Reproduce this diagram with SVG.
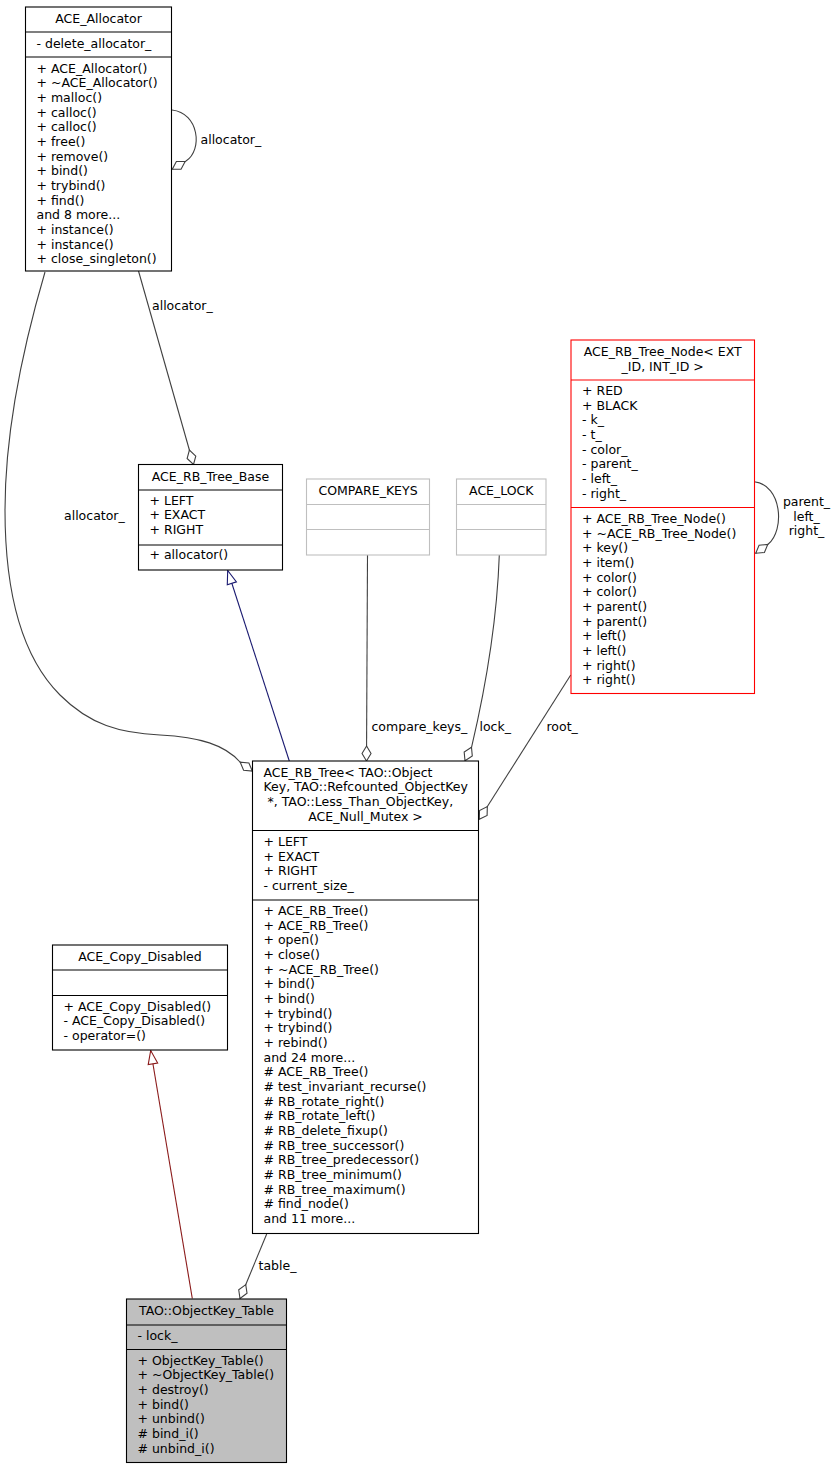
<svg xmlns="http://www.w3.org/2000/svg" width="838" height="1469" viewBox="0 0 838 1469">
<style>
text{font-family:"DejaVu Sans","Liberation Sans",sans-serif;font-size:12.5px;fill:#000}
.c{text-anchor:middle}
.box{fill:#fff;stroke:#000;stroke-width:1.1}
.gray{fill:#fff;stroke:#bfbfbf;stroke-width:1.1}
.red{fill:#fff;stroke:#ff0000;stroke-width:1.1}
.cur{fill:#bfbfbf;stroke:#000;stroke-width:1.1}
.sep{stroke:#000;stroke-width:1.1}
.sepg{stroke:#bfbfbf;stroke-width:1.1}
.sepr{stroke:#ff0000;stroke-width:1.1}
.e{fill:none;stroke:#404040;stroke-width:1.1;marker-end:url(#dia)}
.ib{fill:none;stroke:#191970;stroke-width:1.1;marker-end:url(#triB)}
.ir{fill:none;stroke:#8b1a1a;stroke-width:1.1;marker-end:url(#triR)}
</style>
<defs>
<marker id="dia" markerUnits="userSpaceOnUse" orient="auto" refX="0" refY="0" overflow="visible">
<path d="M0,0 L-7.5,-4.5 L-15,0 L-7.5,4.5 Z" fill="#fff" stroke="#404040" stroke-width="1.1"/>
</marker>
<marker id="triB" markerUnits="userSpaceOnUse" orient="auto" refX="0" refY="0" overflow="visible">
<path d="M0,0 L-13.5,-4.8 L-13.5,4.8 Z" fill="#fff" stroke="#191970" stroke-width="1.1"/>
</marker>
<marker id="triR" markerUnits="userSpaceOnUse" orient="auto" refX="0" refY="0" overflow="visible">
<path d="M0,0 L-13.5,-4.8 L-13.5,4.8 Z" fill="#fff" stroke="#8b1a1a" stroke-width="1.1"/>
</marker>
</defs>
<rect width="838" height="1469" fill="#fff"/>

<g id="edges">
<path class="e" d="M172,110 C199,113 203,150 186,161 L172.3,169.3"/>
<text x="200.5" y="143.5">allocator_</text>
<path class="e" d="M138.5,271 L193.5,464.5"/>
<text x="152" y="309.5">allocator_</text>
<path class="e" d="M45,272 C28,330 5,420 5,510 C5,600 25,660 60,695 C90,725 120,733 160,735 C200,737 225,745 240,762 L252.3,771"/>
<text x="64" y="520">allocator_</text>
<path class="ib" d="M289.3,761 L227.7,570.5"/>
<path class="e" d="M367.5,555 L366.5,761"/>
<text x="371.5" y="730.5">compare_keys_</text>
<path class="e" d="M499.3,555 C497,620 485,690 471.7,746.7 L465,760.7"/>
<text x="479.5" y="730.5">lock_</text>
<path class="e" d="M570.7,675 L479.3,819.3"/>
<text x="546.5" y="730.5">root_</text>
<path class="e" d="M754.3,481.7 C782,485 785,530 768.3,544 L755.7,553.3"/>
<text class="c" x="806.5" y="505.5">parent_</text>
<text class="c" x="806.5" y="520.5">left_</text>
<text class="c" x="806.5" y="535">right_</text>
<path class="ir" d="M192.3,1298.5 L150.7,1050.5"/>
<path class="e" d="M266.7,1234 L240,1298.5"/>
<text x="258.5" y="1269.5">table_</text>
</g>

<g id="ACE_Allocator">
<rect class="box" x="25.5" y="7" width="146" height="264"/>
<line class="sep" x1="25.5" y1="32" x2="171.5" y2="32"/>
<line class="sep" x1="25.5" y1="57" x2="171.5" y2="57"/>
<text class="c" x="98.5" y="23">ACE_Allocator</text>
<text x="36.5" y="48">- delete_allocator_</text>
<text x="36.5" y="72.5"><tspan x="36.5">+ ACE_Allocator()</tspan><tspan x="36.5" dy="14.67">+ ~ACE_Allocator()</tspan><tspan x="36.5" dy="14.67">+ malloc()</tspan><tspan x="36.5" dy="14.67">+ calloc()</tspan><tspan x="36.5" dy="14.67">+ calloc()</tspan><tspan x="36.5" dy="14.67">+ free()</tspan><tspan x="36.5" dy="14.67">+ remove()</tspan><tspan x="36.5" dy="14.67">+ bind()</tspan><tspan x="36.5" dy="14.67">+ trybind()</tspan><tspan x="36.5" dy="14.67">+ find()</tspan><tspan x="36.5" dy="14.67">and 8 more...</tspan><tspan x="36.5" dy="14.67">+ instance()</tspan><tspan x="36.5" dy="14.67">+ instance()</tspan><tspan x="36.5" dy="14.67">+ close_singleton()</tspan></text>
</g>

<g id="ACE_RB_Tree_Base">
<rect class="box" x="138.5" y="464.5" width="144" height="105.5"/>
<line class="sep" x1="138.5" y1="490" x2="282.5" y2="490"/>
<line class="sep" x1="138.5" y1="545" x2="282.5" y2="545"/>
<text class="c" x="210.5" y="481">ACE_RB_Tree_Base</text>
<text x="149.5" y="504.5"><tspan x="149.5">+ LEFT</tspan><tspan x="149.5" dy="14.67">+ EXACT</tspan><tspan x="149.5" dy="14.67">+ RIGHT</tspan></text>
<text x="149.5" y="558.5">+ allocator()</text>
</g>

<g id="COMPARE_KEYS">
<rect class="gray" x="306.5" y="479" width="123" height="76"/>
<line class="sepg" x1="306.5" y1="504.5" x2="429.5" y2="504.5"/>
<line class="sepg" x1="306.5" y1="529.5" x2="429.5" y2="529.5"/>
<text class="c" x="368" y="495">COMPARE_KEYS</text>
</g>

<g id="ACE_LOCK">
<rect class="gray" x="456.5" y="479" width="89.5" height="76"/>
<line class="sepg" x1="456.5" y1="504.5" x2="546" y2="504.5"/>
<line class="sepg" x1="456.5" y1="529.5" x2="546" y2="529.5"/>
<text class="c" x="501.3" y="495">ACE_LOCK</text>
</g>

<g id="ACE_RB_Tree_Node">
<rect class="red" x="571" y="340" width="183.5" height="353.5"/>
<line class="sepr" x1="571" y1="380" x2="754.5" y2="380"/>
<line class="sepr" x1="571" y1="507.5" x2="754.5" y2="507.5"/>
<text class="c" x="662.7" y="356">ACE_RB_Tree_Node&lt; EXT</text>
<text class="c" x="662.7" y="370.5">_ID, INT_ID &gt;</text>
<text x="582" y="395"><tspan x="582">+ RED</tspan><tspan x="582" dy="14.67">+ BLACK</tspan><tspan x="582" dy="14.67">- k_</tspan><tspan x="582" dy="14.67">- t_</tspan><tspan x="582" dy="14.67">- color_</tspan><tspan x="582" dy="14.67">- parent_</tspan><tspan x="582" dy="14.67">- left_</tspan><tspan x="582" dy="14.67">- right_</tspan></text>
<text x="582" y="523"><tspan x="582">+ ACE_RB_Tree_Node()</tspan><tspan x="582" dy="14.67">+ ~ACE_RB_Tree_Node()</tspan><tspan x="582" dy="14.67">+ key()</tspan><tspan x="582" dy="14.67">+ item()</tspan><tspan x="582" dy="14.67">+ color()</tspan><tspan x="582" dy="14.67">+ color()</tspan><tspan x="582" dy="14.67">+ parent()</tspan><tspan x="582" dy="14.67">+ parent()</tspan><tspan x="582" dy="14.67">+ left()</tspan><tspan x="582" dy="14.67">+ left()</tspan><tspan x="582" dy="14.67">+ right()</tspan><tspan x="582" dy="14.67">+ right()</tspan></text>
</g>

<g id="ACE_RB_Tree">
<rect class="box" x="252.5" y="761" width="226" height="472.5"/>
<line class="sep" x1="252.5" y1="830.5" x2="478.5" y2="830.5"/>
<line class="sep" x1="252.5" y1="900" x2="478.5" y2="900"/>
<text x="263.5" y="776.5" xml:space="preserve"><tspan x="263.5">ACE_RB_Tree&lt; TAO::Object</tspan><tspan x="263.5" dy="14.67">Key, TAO::Refcounted_ObjectKey</tspan><tspan x="263.5" dy="14.67"> *, TAO::Less_Than_ObjectKey,</tspan></text>
<text class="c" x="365.5" y="820.5">ACE_Null_Mutex &gt;</text>
<text x="263.5" y="846"><tspan x="263.5">+ LEFT</tspan><tspan x="263.5" dy="14.67">+ EXACT</tspan><tspan x="263.5" dy="14.67">+ RIGHT</tspan><tspan x="263.5" dy="14.67">- current_size_</tspan></text>
<text x="263.5" y="915"><tspan x="263.5">+ ACE_RB_Tree()</tspan><tspan x="263.5" dy="14.67">+ ACE_RB_Tree()</tspan><tspan x="263.5" dy="14.67">+ open()</tspan><tspan x="263.5" dy="14.67">+ close()</tspan><tspan x="263.5" dy="14.67">+ ~ACE_RB_Tree()</tspan><tspan x="263.5" dy="14.67">+ bind()</tspan><tspan x="263.5" dy="14.67">+ bind()</tspan><tspan x="263.5" dy="14.67">+ trybind()</tspan><tspan x="263.5" dy="14.67">+ trybind()</tspan><tspan x="263.5" dy="14.67">+ rebind()</tspan><tspan x="263.5" dy="14.67">and 24 more...</tspan><tspan x="263.5" dy="14.67"># ACE_RB_Tree()</tspan><tspan x="263.5" dy="14.67"># test_invariant_recurse()</tspan><tspan x="263.5" dy="14.67"># RB_rotate_right()</tspan><tspan x="263.5" dy="14.67"># RB_rotate_left()</tspan><tspan x="263.5" dy="14.67"># RB_delete_fixup()</tspan><tspan x="263.5" dy="14.67"># RB_tree_successor()</tspan><tspan x="263.5" dy="14.67"># RB_tree_predecessor()</tspan><tspan x="263.5" dy="14.67"># RB_tree_minimum()</tspan><tspan x="263.5" dy="14.67"># RB_tree_maximum()</tspan><tspan x="263.5" dy="14.67"># find_node()</tspan><tspan x="263.5" dy="14.67">and 11 more...</tspan></text>
</g>

<g id="ACE_Copy_Disabled">
<rect class="box" x="52.5" y="945" width="175" height="105"/>
<line class="sep" x1="52.5" y1="970" x2="227.5" y2="970"/>
<line class="sep" x1="52.5" y1="995.5" x2="227.5" y2="995.5"/>
<text class="c" x="140" y="960.5">ACE_Copy_Disabled</text>
<text x="63.5" y="1010.5"><tspan x="63.5">+ ACE_Copy_Disabled()</tspan><tspan x="63.5" dy="14.67">- ACE_Copy_Disabled()</tspan><tspan x="63.5" dy="14.67">- operator=()</tspan></text>
</g>

<g id="TAO_ObjectKey_Table">
<rect class="cur" x="126.5" y="1299" width="160" height="163.5"/>
<line class="sep" x1="126.5" y1="1325" x2="286.5" y2="1325"/>
<line class="sep" x1="126.5" y1="1349.5" x2="286.5" y2="1349.5"/>
<text class="c" x="206.5" y="1315">TAO::ObjectKey_Table</text>
<text x="137.5" y="1340">- lock_</text>
<text x="137.5" y="1364.5"><tspan x="137.5">+ ObjectKey_Table()</tspan><tspan x="137.5" dy="14.67">+ ~ObjectKey_Table()</tspan><tspan x="137.5" dy="14.67">+ destroy()</tspan><tspan x="137.5" dy="14.67">+ bind()</tspan><tspan x="137.5" dy="14.67">+ unbind()</tspan><tspan x="137.5" dy="14.67"># bind_i()</tspan><tspan x="137.5" dy="14.67"># unbind_i()</tspan></text>
</g>
</svg>
